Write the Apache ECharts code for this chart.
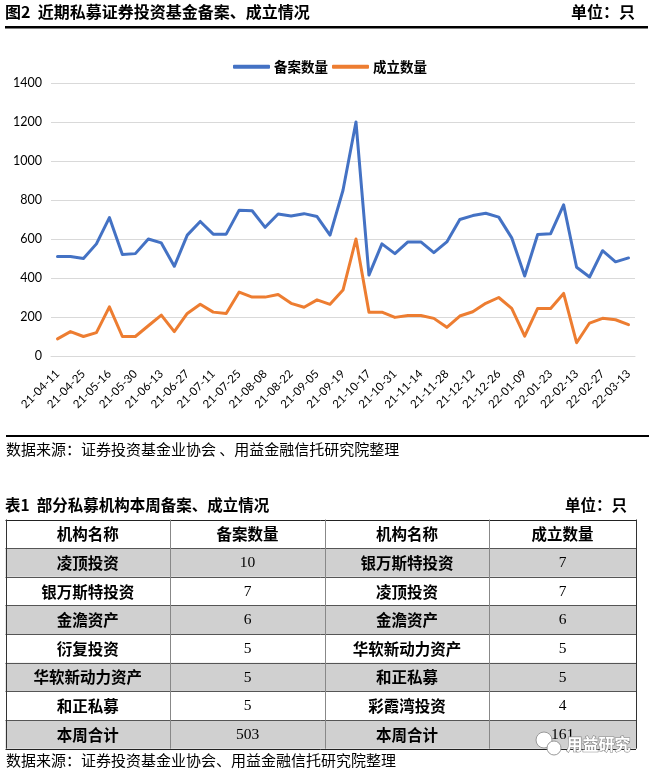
<!DOCTYPE html>
<html>
<head>
<meta charset="utf-8">
<script src="https://cdn.jsdelivr.net/npm/echarts@6/dist/echarts.min.js"></script>
<style>
html,body{margin:0;padding:0;background:#fff;}
#c{width:652px;height:774px;}
</style>
</head>
<body>
<div id="c"></div>
<script>
// ---- data ----
const dates = ['21-04-11','21-04-18','21-04-25','21-05-09','21-05-16','21-05-23','21-05-30','21-06-06','21-06-13','21-06-20','21-06-27','21-07-04','21-07-11','21-07-18','21-07-25','21-08-01','21-08-08','21-08-15','21-08-22','21-08-29','21-09-05','21-09-12','21-09-19','21-10-10','21-10-17','21-10-24','21-10-31','21-11-07','21-11-14','21-11-21','21-11-28','21-12-05','21-12-12','21-12-19','21-12-26','22-01-02','22-01-09','22-01-16','22-01-23','22-01-30','22-02-13','22-02-20','22-02-27','22-03-06','22-03-13'];
const filed = [510,510,500,575,710,520,525,600,580,460,620,690,625,625,748,745,660,728,718,730,715,620,850,1200,415,575,525,585,585,530,585,700,720,732,712,606,410,623,627,775,455,405,540,483,503];
const established = [88,125,100,120,252,100,100,155,210,125,218,265,225,218,328,302,302,315,270,250,288,265,338,600,225,225,198,208,208,193,147,205,227,270,300,244,102,244,244,321,68,169,193,186,161];
const seriesNames = ['备案数量','成立数量'];
const yTicks = {min:0, max:1400, interval:200};

const chartTitle = '图2  近期私募证券投资基金备案、成立情况';
const unitText = '单位：只';
const source1 = '数据来源：证券投资基金业协会 、用益金融信托研究院整理';
const tableTitle = '表1  部分私募机构本周备案、成立情况';
const tableHeader = ['机构名称','备案数量','机构名称','成立数量'];
const leftNames = ['凌顶投资','银万斯特投资','金澹资产','衍复投资','华软新动力资产','和正私募'];
const leftCounts = [10,7,6,5,5,5];
const rightNames = ['银万斯特投资','凌顶投资','金澹资产','华软新动力资产','和正私募','彩霞湾投资'];
const rightCounts = [7,7,6,5,5,4];
const totalLabel = '本周合计';
const totals = [503,161];
const source2 = '数据来源：证券投资基金业协会、用益金融信托研究院整理';
const watermark = '用益研究';

// ---- layout ----
const CJK = '"Noto Sans CJK SC", sans-serif';
const colX = [5.5, 170, 325, 489, 636];
const tableTop = 519.5, rowH = 28.65;
const gray = '#d0d0d0';

const g = [];
g.push({type:'text', left:5, top:4, style:{text:chartTitle, font:'bold 16px '+CJK, fill:'#000'}});
g.push({type:'text', right:17, top:4, style:{text:unitText, font:'bold 16px '+CJK, fill:'#000'}});
g.push({type:'rect', shape:{x:5, y:26, width:643, height:2.5}, style:{fill:'#000'}});
g.push({type:'rect', shape:{x:6, y:435, width:643, height:2}, style:{fill:'#000'}});
g.push({type:'text', left:6, top:442, style:{text:source1, font:'15px '+CJK, fill:'#000'}});
g.push({type:'text', left:5, top:497, style:{text:tableTitle, font:'bold 15.5px '+CJK, fill:'#000'}});
g.push({type:'text', right:25, top:497, style:{text:unitText, font:'bold 15.5px '+CJK, fill:'#000'}});

const rows = [tableHeader];
for (let i = 0; i < leftNames.length; i++) {
  rows.push([leftNames[i], String(leftCounts[i]), rightNames[i], String(rightCounts[i])]);
}
rows.push([totalLabel, String(totals[0]), totalLabel, String(totals[1])]);

rows.forEach((r, ri) => {
  const y = tableTop + ri * rowH;
  if (ri % 2 === 1) {
    g.push({type:'rect', shape:{x:colX[0], y:y, width:colX[4]-colX[0], height:rowH}, style:{fill:gray}});
  }
  r.forEach((cell, ci) => {
    const cx = (colX[ci] + colX[ci+1]) / 2;
    const isNum = (ci % 2 === 1) && ri > 0;
    g.push({type:'text', x:cx, y:y + rowH/2 + 0.5, style:{
      text:cell, textAlign:'center', textVerticalAlign:'middle',
      font: isNum ? '15.5px "Liberation Serif", serif' : 'bold 15.5px '+CJK, fill:'#000'}});
  });
});
for (let ri = 0; ri <= rows.length; ri++) {
  const y = Math.round(tableTop + ri * rowH) + 0.5;
  g.push({type:'line', shape:{x1:colX[0], y1:y, x2:colX[4], y2:y}, style:{stroke: (ri===0||ri===rows.length)?'#222':'#555', lineWidth:1}});
}
colX.forEach((x, i) => {
  const xx = Math.round(x) + 0.5;
  g.push({type:'line', shape:{x1:xx, y1:tableTop, x2:xx, y2:tableTop + rows.length*rowH}, style:{stroke:(i===0||i===4)?'#333':'#888', lineWidth:1}});
});
g.push({type:'text', left:6, top:753, style:{text:source2, font:'15px '+CJK, fill:'#000'}});

g.push({type:'circle', shape:{cx:544, cy:740, r:8}, style:{fill:'#fff', stroke:'#999', lineWidth:1}});
g.push({type:'circle', shape:{cx:554, cy:748, r:7}, style:{fill:'#fff', stroke:'#999', lineWidth:1}});
g.push({type:'text', left:566, top:735, style:{text:watermark, font:'bold 16px '+CJK, fill:'#fff', stroke:'#8a8a8a', lineWidth:1.2}});

const chart = echarts.init(document.getElementById('c'), null, {renderer:'canvas'});
chart.setOption({
  backgroundColor:'#fff',
  animation:false,
  color:['#4472C4','#ED7D31'],
  legend:{
    data:seriesNames.map(n => ({name:n, icon:'roundRect'})), left:228, top:55, itemWidth:37, itemHeight:4, itemGap:4,
    textStyle:{fontFamily:CJK, fontSize:13.5, fontWeight:'bold', color:'#000', padding:[0,0,0,-1]}
  },
  grid:{left:51, right:17, top:83, bottom:418, containLabel:false},
  xAxis:{
    type:'category', data:dates, boundaryGap:true,
    axisLine:{show:true, lineStyle:{color:'#d9d9d9', width:1}},
    axisTick:{show:false},
    axisLabel:{interval:1, rotate:45, margin:16, fontSize:11.5, fontFamily:'Lato, "Open Sans", sans-serif', color:'#000'}
  },
  yAxis:{
    type:'value', min:yTicks.min, max:yTicks.max, interval:yTicks.interval,
    axisLine:{show:false}, axisTick:{show:false},
    axisLabel:{margin:9, fontSize:12.5, fontFamily:'Lato, "Open Sans", sans-serif', color:'#000', formatter:v => String(v)},
    splitLine:{lineStyle:{color:'#d9d9d9', width:1}}
  },
  series:[
    {name:seriesNames[0], type:'line', data:filed, showSymbol:false, symbol:'none', lineStyle:{width:3, join:'round', cap:'round'}},
    {name:seriesNames[1], type:'line', data:established, showSymbol:false, symbol:'none', lineStyle:{width:3, join:'round', cap:'round'}}
  ],
  graphic:g
});
</script>
</body>
</html>
